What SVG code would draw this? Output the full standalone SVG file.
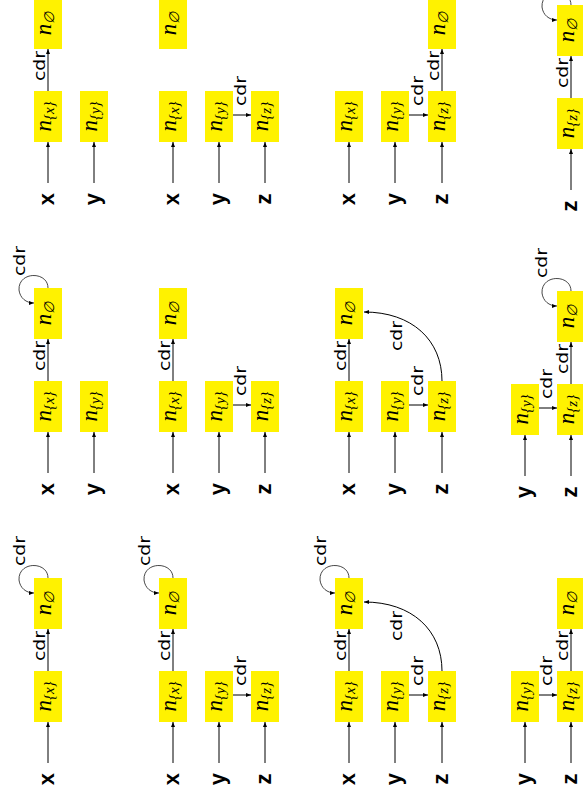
<svg xmlns="http://www.w3.org/2000/svg" width="583" height="803" viewBox="0 0 583 803">
<style>
.box{fill:#FFF200;stroke:none}
.nl{font-family:"Liberation Serif","DejaVu Serif",serif;font-style:italic;font-size:23px;text-anchor:middle;fill:#000}
.sub{font-size:15px;font-style:italic}
.sube{font-family:"DejaVu Serif",serif;font-size:14px;font-style:italic}
.var{font-family:"Liberation Sans","DejaVu Sans",sans-serif;font-weight:bold;font-size:22px;text-anchor:middle;fill:#000}
.cdr{font-family:"DejaVu Sans","Liberation Sans",sans-serif;font-size:15px;text-anchor:middle;fill:#000}
.e{fill:none;stroke:#000;stroke-width:1;marker-end:url(#ah)}
.lp{fill:none;stroke:#333;stroke-width:0.9;marker-end:url(#ah)}
</style>
<defs>
<marker id="ah" markerUnits="userSpaceOnUse" markerWidth="6" markerHeight="5" refX="5" refY="2" orient="auto">
<path d="M0,0 L5,2 L0,4 z" fill="#000"/>
</marker>
</defs>

<!-- ===== Band 1 ===== -->
<g id="p1a-ne"><rect class="box" x="34" y="-2" width="28" height="51"/><text class="nl" transform="translate(48,23.5) rotate(-90)" y="3">n<tspan class="sube" dy="2.5">∅</tspan></text></g>
<g id="p1a-nx"><rect class="box" x="34" y="91" width="28" height="51"/><text class="nl" transform="translate(48,116.5) rotate(-90)" y="3">n<tspan class="sub" dy="2.5">{x}</tspan></text></g>
<g id="p1a-ny"><rect class="box" x="80" y="91" width="28" height="51"/><text class="nl" transform="translate(94,116.5) rotate(-90)" y="3">n<tspan class="sub" dy="2.5">{y}</tspan></text></g>
<g id="p1a-x"><text class="var" transform="translate(48,199) rotate(-90)" y="6">x</text></g>
<g id="p1a-y"><text class="var" transform="translate(94,199) rotate(-90)" y="6">y</text></g>

<g id="p1b-ne"><rect class="box" x="159" y="-2" width="28" height="51"/><text class="nl" transform="translate(173,23.5) rotate(-90)" y="3">n<tspan class="sube" dy="2.5">∅</tspan></text></g>
<g id="p1b-nx"><rect class="box" x="159" y="91" width="28" height="51"/><text class="nl" transform="translate(173,116.5) rotate(-90)" y="3">n<tspan class="sub" dy="2.5">{x}</tspan></text></g>
<g id="p1b-ny"><rect class="box" x="205" y="91" width="28" height="51"/><text class="nl" transform="translate(219,116.5) rotate(-90)" y="3">n<tspan class="sub" dy="2.5">{y}</tspan></text></g>
<g id="p1b-nz"><rect class="box" x="251" y="91" width="28" height="51"/><text class="nl" transform="translate(265,116.5) rotate(-90)" y="3">n<tspan class="sub" dy="2.5">{z}</tspan></text></g>
<g id="p1b-x"><text class="var" transform="translate(173,199) rotate(-90)" y="6">x</text></g>
<g id="p1b-y"><text class="var" transform="translate(219,199) rotate(-90)" y="6">y</text></g>
<g id="p1b-z"><text class="var" transform="translate(265,199) rotate(-90)" y="6">z</text></g>

<g id="p1c-nx"><rect class="box" x="335" y="91" width="28" height="51"/><text class="nl" transform="translate(349,116.5) rotate(-90)" y="3">n<tspan class="sub" dy="2.5">{x}</tspan></text></g>
<g id="p1c-ny"><rect class="box" x="381" y="91" width="28" height="51"/><text class="nl" transform="translate(395,116.5) rotate(-90)" y="3">n<tspan class="sub" dy="2.5">{y}</tspan></text></g>
<g id="p1c-nz"><rect class="box" x="428" y="91" width="28" height="51"/><text class="nl" transform="translate(442,116.5) rotate(-90)" y="3">n<tspan class="sub" dy="2.5">{z}</tspan></text></g>
<g id="p1c-ne"><rect class="box" x="428" y="-2" width="28" height="51"/><text class="nl" transform="translate(442,23.5) rotate(-90)" y="3">n<tspan class="sube" dy="2.5">∅</tspan></text></g>
<g id="p1c-x"><text class="var" transform="translate(349,199) rotate(-90)" y="6">x</text></g>
<g id="p1c-y"><text class="var" transform="translate(395,199) rotate(-90)" y="6">y</text></g>
<g id="p1c-z"><text class="var" transform="translate(442,199) rotate(-90)" y="6">z</text></g>

<g id="p1d-nz"><rect class="box" x="557" y="98" width="28" height="51"/><text class="nl" transform="translate(571,123.5) rotate(-90)" y="3">n<tspan class="sub" dy="2.5">{z}</tspan></text></g>
<g id="p1d-ne"><rect class="box" x="557" y="5" width="28" height="51"/><text class="nl" transform="translate(571,30.5) rotate(-90)" y="3">n<tspan class="sube" dy="2.5">∅</tspan></text></g>
<g id="p1d-z"><text class="var" transform="translate(571,206) rotate(-90)" y="6">z</text></g>

<!-- ===== Band 2 ===== -->
<g id="p2a-ne"><rect class="box" x="34" y="288" width="28" height="51"/><text class="nl" transform="translate(48,313.5) rotate(-90)" y="3">n<tspan class="sube" dy="2.5">∅</tspan></text></g>
<g id="p2a-nx"><rect class="box" x="34" y="381" width="28" height="51"/><text class="nl" transform="translate(48,406.5) rotate(-90)" y="3">n<tspan class="sub" dy="2.5">{x}</tspan></text></g>
<g id="p2a-ny"><rect class="box" x="80" y="381" width="28" height="51"/><text class="nl" transform="translate(94,406.5) rotate(-90)" y="3">n<tspan class="sub" dy="2.5">{y}</tspan></text></g>
<g id="p2a-x"><text class="var" transform="translate(48,489) rotate(-90)" y="6">x</text></g>
<g id="p2a-y"><text class="var" transform="translate(94,489) rotate(-90)" y="6">y</text></g>

<g id="p2b-ne"><rect class="box" x="159" y="288" width="28" height="51"/><text class="nl" transform="translate(173,313.5) rotate(-90)" y="3">n<tspan class="sube" dy="2.5">∅</tspan></text></g>
<g id="p2b-nx"><rect class="box" x="159" y="381" width="28" height="51"/><text class="nl" transform="translate(173,406.5) rotate(-90)" y="3">n<tspan class="sub" dy="2.5">{x}</tspan></text></g>
<g id="p2b-ny"><rect class="box" x="205" y="381" width="28" height="51"/><text class="nl" transform="translate(219,406.5) rotate(-90)" y="3">n<tspan class="sub" dy="2.5">{y}</tspan></text></g>
<g id="p2b-nz"><rect class="box" x="251" y="381" width="28" height="51"/><text class="nl" transform="translate(265,406.5) rotate(-90)" y="3">n<tspan class="sub" dy="2.5">{z}</tspan></text></g>
<g id="p2b-x"><text class="var" transform="translate(173,489) rotate(-90)" y="6">x</text></g>
<g id="p2b-y"><text class="var" transform="translate(219,489) rotate(-90)" y="6">y</text></g>
<g id="p2b-z"><text class="var" transform="translate(265,489) rotate(-90)" y="6">z</text></g>

<g id="p2c-ne"><rect class="box" x="335" y="288" width="28" height="51"/><text class="nl" transform="translate(349,313.5) rotate(-90)" y="3">n<tspan class="sube" dy="2.5">∅</tspan></text></g>
<g id="p2c-nx"><rect class="box" x="335" y="381" width="28" height="51"/><text class="nl" transform="translate(349,406.5) rotate(-90)" y="3">n<tspan class="sub" dy="2.5">{x}</tspan></text></g>
<g id="p2c-ny"><rect class="box" x="381" y="381" width="28" height="51"/><text class="nl" transform="translate(395,406.5) rotate(-90)" y="3">n<tspan class="sub" dy="2.5">{y}</tspan></text></g>
<g id="p2c-nz"><rect class="box" x="428" y="381" width="28" height="51"/><text class="nl" transform="translate(442,406.5) rotate(-90)" y="3">n<tspan class="sub" dy="2.5">{z}</tspan></text></g>
<g id="p2c-x"><text class="var" transform="translate(349,489) rotate(-90)" y="6">x</text></g>
<g id="p2c-y"><text class="var" transform="translate(395,489) rotate(-90)" y="6">y</text></g>
<g id="p2c-z"><text class="var" transform="translate(442,489) rotate(-90)" y="6">z</text></g>

<g id="p2d-ny"><rect class="box" x="511" y="384" width="28" height="51"/><text class="nl" transform="translate(525,409.5) rotate(-90)" y="3">n<tspan class="sub" dy="2.5">{y}</tspan></text></g>
<g id="p2d-nz"><rect class="box" x="557" y="384" width="28" height="51"/><text class="nl" transform="translate(571,409.5) rotate(-90)" y="3">n<tspan class="sub" dy="2.5">{z}</tspan></text></g>
<g id="p2d-ne"><rect class="box" x="557" y="291" width="28" height="51"/><text class="nl" transform="translate(571,316.5) rotate(-90)" y="3">n<tspan class="sube" dy="2.5">∅</tspan></text></g>
<g id="p2d-y"><text class="var" transform="translate(525,492) rotate(-90)" y="6">y</text></g>
<g id="p2d-z"><text class="var" transform="translate(571,492) rotate(-90)" y="6">z</text></g>

<!-- ===== Band 3 ===== -->
<g id="p3a-ne"><rect class="box" x="34" y="578" width="28" height="51"/><text class="nl" transform="translate(48,603.5) rotate(-90)" y="3">n<tspan class="sube" dy="2.5">∅</tspan></text></g>
<g id="p3a-nx"><rect class="box" x="34" y="671" width="28" height="51"/><text class="nl" transform="translate(48,696.5) rotate(-90)" y="3">n<tspan class="sub" dy="2.5">{x}</tspan></text></g>
<g id="p3a-x"><text class="var" transform="translate(48,779) rotate(-90)" y="6">x</text></g>

<g id="p3b-ne"><rect class="box" x="159" y="578" width="28" height="51"/><text class="nl" transform="translate(173,603.5) rotate(-90)" y="3">n<tspan class="sube" dy="2.5">∅</tspan></text></g>
<g id="p3b-nx"><rect class="box" x="159" y="671" width="28" height="51"/><text class="nl" transform="translate(173,696.5) rotate(-90)" y="3">n<tspan class="sub" dy="2.5">{x}</tspan></text></g>
<g id="p3b-ny"><rect class="box" x="205" y="671" width="28" height="51"/><text class="nl" transform="translate(219,696.5) rotate(-90)" y="3">n<tspan class="sub" dy="2.5">{y}</tspan></text></g>
<g id="p3b-nz"><rect class="box" x="251" y="671" width="28" height="51"/><text class="nl" transform="translate(265,696.5) rotate(-90)" y="3">n<tspan class="sub" dy="2.5">{z}</tspan></text></g>
<g id="p3b-x"><text class="var" transform="translate(173,779) rotate(-90)" y="6">x</text></g>
<g id="p3b-y"><text class="var" transform="translate(219,779) rotate(-90)" y="6">y</text></g>
<g id="p3b-z"><text class="var" transform="translate(265,779) rotate(-90)" y="6">z</text></g>

<g id="p3c-ne"><rect class="box" x="335" y="578" width="28" height="51"/><text class="nl" transform="translate(349,603.5) rotate(-90)" y="3">n<tspan class="sube" dy="2.5">∅</tspan></text></g>
<g id="p3c-nx"><rect class="box" x="335" y="671" width="28" height="51"/><text class="nl" transform="translate(349,696.5) rotate(-90)" y="3">n<tspan class="sub" dy="2.5">{x}</tspan></text></g>
<g id="p3c-ny"><rect class="box" x="381" y="671" width="28" height="51"/><text class="nl" transform="translate(395,696.5) rotate(-90)" y="3">n<tspan class="sub" dy="2.5">{y}</tspan></text></g>
<g id="p3c-nz"><rect class="box" x="428" y="671" width="28" height="51"/><text class="nl" transform="translate(442,696.5) rotate(-90)" y="3">n<tspan class="sub" dy="2.5">{z}</tspan></text></g>
<g id="p3c-x"><text class="var" transform="translate(349,779) rotate(-90)" y="6">x</text></g>
<g id="p3c-y"><text class="var" transform="translate(395,779) rotate(-90)" y="6">y</text></g>
<g id="p3c-z"><text class="var" transform="translate(442,779) rotate(-90)" y="6">z</text></g>

<g id="p3d-ny"><rect class="box" x="511" y="671" width="28" height="51"/><text class="nl" transform="translate(525,696.5) rotate(-90)" y="3">n<tspan class="sub" dy="2.5">{y}</tspan></text></g>
<g id="p3d-nz"><rect class="box" x="557" y="671" width="28" height="51"/><text class="nl" transform="translate(571,696.5) rotate(-90)" y="3">n<tspan class="sub" dy="2.5">{z}</tspan></text></g>
<g id="p3d-ne"><rect class="box" x="557" y="578" width="28" height="51"/><text class="nl" transform="translate(571,603.5) rotate(-90)" y="3">n<tspan class="sube" dy="2.5">∅</tspan></text></g>
<g id="p3d-y"><text class="var" transform="translate(525,779) rotate(-90)" y="6">y</text></g>
<g id="p3d-z"><text class="var" transform="translate(571,779) rotate(-90)" y="6">z</text></g>

<!-- ===== Connectors ===== -->
<g id="connectors">
<!-- band 1 -->
<path class="e" d="M48,183V142"/><path class="e" d="M94,183V142"/>
<path class="e" d="M48,91V49"/><text class="cdr" textLength="30" lengthAdjust="spacingAndGlyphs" transform="translate(45,66) rotate(-90)">cdr</text>
<path class="e" d="M173,183V142"/><path class="e" d="M219,183V142"/><path class="e" d="M265,183V142"/>
<path class="e" d="M233,115H251"/><text class="cdr" textLength="30" lengthAdjust="spacingAndGlyphs" transform="translate(246,91) rotate(-90)">cdr</text>
<path class="e" d="M349,183V142"/><path class="e" d="M395,183V142"/><path class="e" d="M442,183V142"/>
<path class="e" d="M409,115H428"/><text class="cdr" textLength="30" lengthAdjust="spacingAndGlyphs" transform="translate(423,91) rotate(-90)">cdr</text>
<path class="e" d="M442,91V49"/><text class="cdr" textLength="30" lengthAdjust="spacingAndGlyphs" transform="translate(439,66) rotate(-90)">cdr</text>
<path class="e" d="M571,190V149"/>
<path class="e" d="M571,98V56"/><text class="cdr" textLength="30" lengthAdjust="spacingAndGlyphs" transform="translate(568,73) rotate(-90)">cdr</text>
<path class="lp" d="M571,5C571,-12 541,-12 542,7C543,15 549,20 557,20"/>
<!-- band 2 -->
<path class="e" d="M48,473V432"/><path class="e" d="M94,473V432"/>
<path class="e" d="M48,381V339"/><text class="cdr" textLength="30" lengthAdjust="spacingAndGlyphs" transform="translate(45,356) rotate(-90)">cdr</text>
<path class="lp" d="M48,288C48,271 18,271 19,290C20,298 26,303 34,303"/><text class="cdr" textLength="30" lengthAdjust="spacingAndGlyphs" transform="translate(25,261) rotate(-90)">cdr</text>
<path class="e" d="M173,473V432"/><path class="e" d="M219,473V432"/><path class="e" d="M265,473V432"/>
<path class="e" d="M173,381V339"/><text class="cdr" textLength="30" lengthAdjust="spacingAndGlyphs" transform="translate(170,356) rotate(-90)">cdr</text>
<path class="e" d="M233,405H251"/><text class="cdr" textLength="30" lengthAdjust="spacingAndGlyphs" transform="translate(246,381) rotate(-90)">cdr</text>
<path class="e" d="M349,473V432"/><path class="e" d="M395,473V432"/><path class="e" d="M442,473V432"/>
<path class="e" d="M349,381V339"/><text class="cdr" textLength="30" lengthAdjust="spacingAndGlyphs" transform="translate(346,356) rotate(-90)">cdr</text>
<path class="e" d="M409,405H428"/><text class="cdr" textLength="30" lengthAdjust="spacingAndGlyphs" transform="translate(423,381) rotate(-90)">cdr</text>
<path class="e" d="M442,381C442,340 412,312 364,312"/><text class="cdr" textLength="30" lengthAdjust="spacingAndGlyphs" transform="translate(402,336) rotate(-90)">cdr</text>
<path class="e" d="M525,476V435"/><path class="e" d="M571,476V435"/>
<path class="e" d="M539,408H557"/><text class="cdr" textLength="30" lengthAdjust="spacingAndGlyphs" transform="translate(552,384) rotate(-90)">cdr</text>
<path class="e" d="M571,384V342"/><text class="cdr" textLength="30" lengthAdjust="spacingAndGlyphs" transform="translate(568,359) rotate(-90)">cdr</text>
<path class="lp" d="M571,291C571,274 541,274 542,293C543,301 549,306 557,306"/><text class="cdr" textLength="30" lengthAdjust="spacingAndGlyphs" transform="translate(547,263) rotate(-90)">cdr</text>
<!-- band 3 -->
<path class="e" d="M48,763V722"/>
<path class="e" d="M48,671V629"/><text class="cdr" textLength="30" lengthAdjust="spacingAndGlyphs" transform="translate(45,646) rotate(-90)">cdr</text>
<path class="lp" d="M48,578C48,561 18,561 19,580C20,588 26,593 34,593"/><text class="cdr" textLength="30" lengthAdjust="spacingAndGlyphs" transform="translate(25,551) rotate(-90)">cdr</text>
<path class="e" d="M173,763V722"/><path class="e" d="M219,763V722"/><path class="e" d="M265,763V722"/>
<path class="e" d="M173,671V629"/><text class="cdr" textLength="30" lengthAdjust="spacingAndGlyphs" transform="translate(170,646) rotate(-90)">cdr</text>
<path class="lp" d="M173,578C173,561 143,561 144,580C145,588 151,593 159,593"/><text class="cdr" textLength="30" lengthAdjust="spacingAndGlyphs" transform="translate(150,551) rotate(-90)">cdr</text>
<path class="e" d="M233,695H251"/><text class="cdr" textLength="30" lengthAdjust="spacingAndGlyphs" transform="translate(246,671) rotate(-90)">cdr</text>
<path class="e" d="M349,763V722"/><path class="e" d="M395,763V722"/><path class="e" d="M442,763V722"/>
<path class="e" d="M349,671V629"/><text class="cdr" textLength="30" lengthAdjust="spacingAndGlyphs" transform="translate(346,646) rotate(-90)">cdr</text>
<path class="lp" d="M349,578C349,561 319,561 320,580C321,588 327,593 335,593"/><text class="cdr" textLength="30" lengthAdjust="spacingAndGlyphs" transform="translate(326,551) rotate(-90)">cdr</text>
<path class="e" d="M409,695H428"/><text class="cdr" textLength="30" lengthAdjust="spacingAndGlyphs" transform="translate(423,671) rotate(-90)">cdr</text>
<path class="e" d="M442,671C442,630 412,602 364,602"/><text class="cdr" textLength="30" lengthAdjust="spacingAndGlyphs" transform="translate(402,626) rotate(-90)">cdr</text>
<path class="e" d="M525,763V722"/><path class="e" d="M571,763V722"/>
<path class="e" d="M539,695H557"/><text class="cdr" textLength="30" lengthAdjust="spacingAndGlyphs" transform="translate(552,671) rotate(-90)">cdr</text>
<path class="e" d="M571,671V629"/><text class="cdr" textLength="30" lengthAdjust="spacingAndGlyphs" transform="translate(568,646) rotate(-90)">cdr</text>
</g>
</svg>
